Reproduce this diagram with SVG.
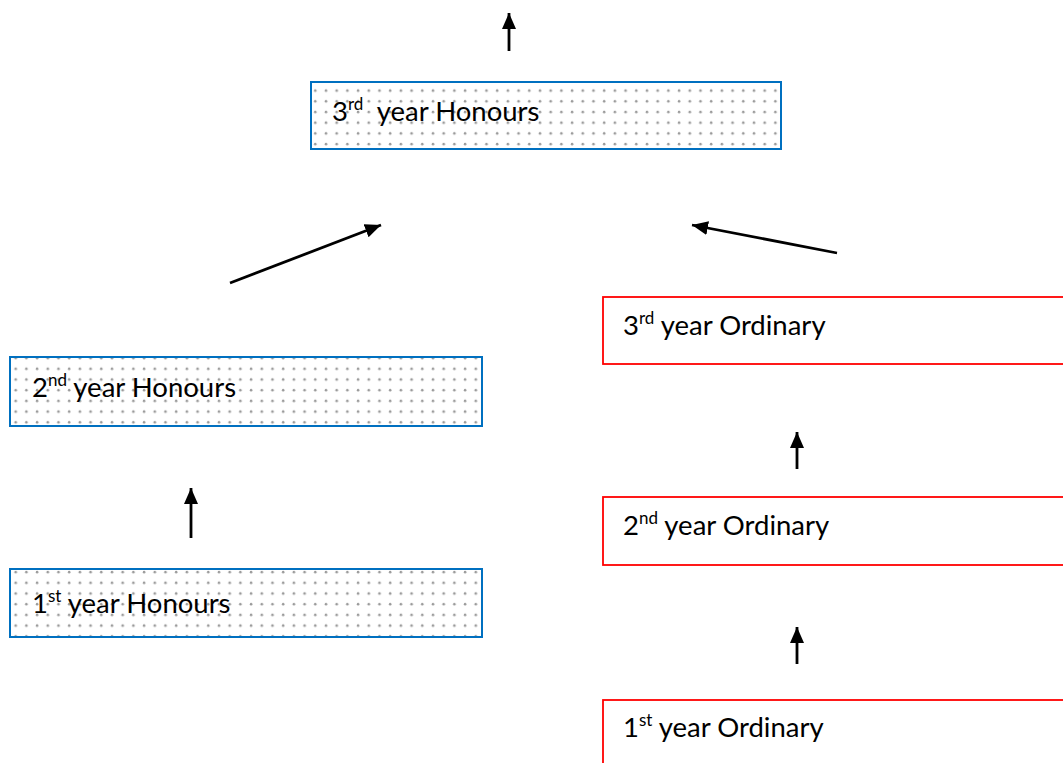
<svg xmlns="http://www.w3.org/2000/svg" width="1063" height="763" viewBox="0 0 1063 763">
<style>
.hon{fill:url(#dots);stroke:#0070C0;stroke-width:2}
.ord{fill:#ffffff;stroke:#FF0000;stroke-width:1.8}
.lbl{font-family:Lato,"Open Sans",sans-serif;font-size:27.5px;fill:#000}
.sup{font-size:17px}
.arr{stroke:#000;stroke-width:2.8;fill:none;marker-end:url(#ah)}
</style>
<defs>
<pattern id="dots" patternUnits="userSpaceOnUse" x="0" y="0" width="10.7" height="10.7">
<rect width="10.7" height="10.7" fill="#ffffff"/>
<circle cx="5" cy="5" r="1.3" fill="#9a9a9a"/>
</pattern>
<marker id="ah" markerUnits="userSpaceOnUse" markerWidth="17" markerHeight="15" refX="16" refY="7" orient="auto">
<path d="M0,0 L16,7 L0,14 z" fill="#000"/>
</marker>
</defs>
<rect width="1063" height="763" fill="#ffffff"/>
<g id="connectors">
<line class="arr" x1="509" y1="51" x2="509" y2="13"/>
<line class="arr" x1="230" y1="283" x2="381" y2="225"/>
<line class="arr" x1="837" y1="253" x2="692" y2="225"/>
<line class="arr" x1="191" y1="538" x2="191" y2="488"/>
<line class="arr" x1="797" y1="469" x2="797" y2="432"/>
<line class="arr" x1="797" y1="664" x2="797" y2="627"/>
</g>
<g id="hon3">
<rect class="hon" x="311" y="82" width="470" height="67"/>
<text class="lbl" x="332" y="121">3<tspan class="sup" dy="-11">rd</tspan><tspan dy="11" xml:space="preserve">  year Honours</tspan></text>
</g>
<g id="hon2">
<rect class="hon" x="10" y="357" width="472" height="69"/>
<text class="lbl" x="32" y="397">2<tspan class="sup" dy="-11">nd</tspan><tspan dy="11"> year Honours</tspan></text>
</g>
<g id="hon1">
<rect class="hon" x="10" y="569" width="472" height="68"/>
<text class="lbl" x="32" y="613">1<tspan class="sup" dy="-11">st</tspan><tspan dy="11"> year Honours</tspan></text>
</g>
<g id="ord3">
<rect class="ord" x="603" y="297" width="470" height="67"/>
<text class="lbl" x="623" y="335">3<tspan class="sup" dy="-11">rd</tspan><tspan dy="11"> year Ordinary</tspan></text>
</g>
<g id="ord2">
<rect class="ord" x="603" y="497" width="470" height="68"/>
<text class="lbl" x="623" y="535">2<tspan class="sup" dy="-11">nd</tspan><tspan dy="11"> year Ordinary</tspan></text>
</g>
<g id="ord1">
<rect class="ord" x="603" y="700" width="470" height="80"/>
<text class="lbl" x="623" y="737">1<tspan class="sup" dy="-11">st</tspan><tspan dy="11"> year Ordinary</tspan></text>
</g>
</svg>
